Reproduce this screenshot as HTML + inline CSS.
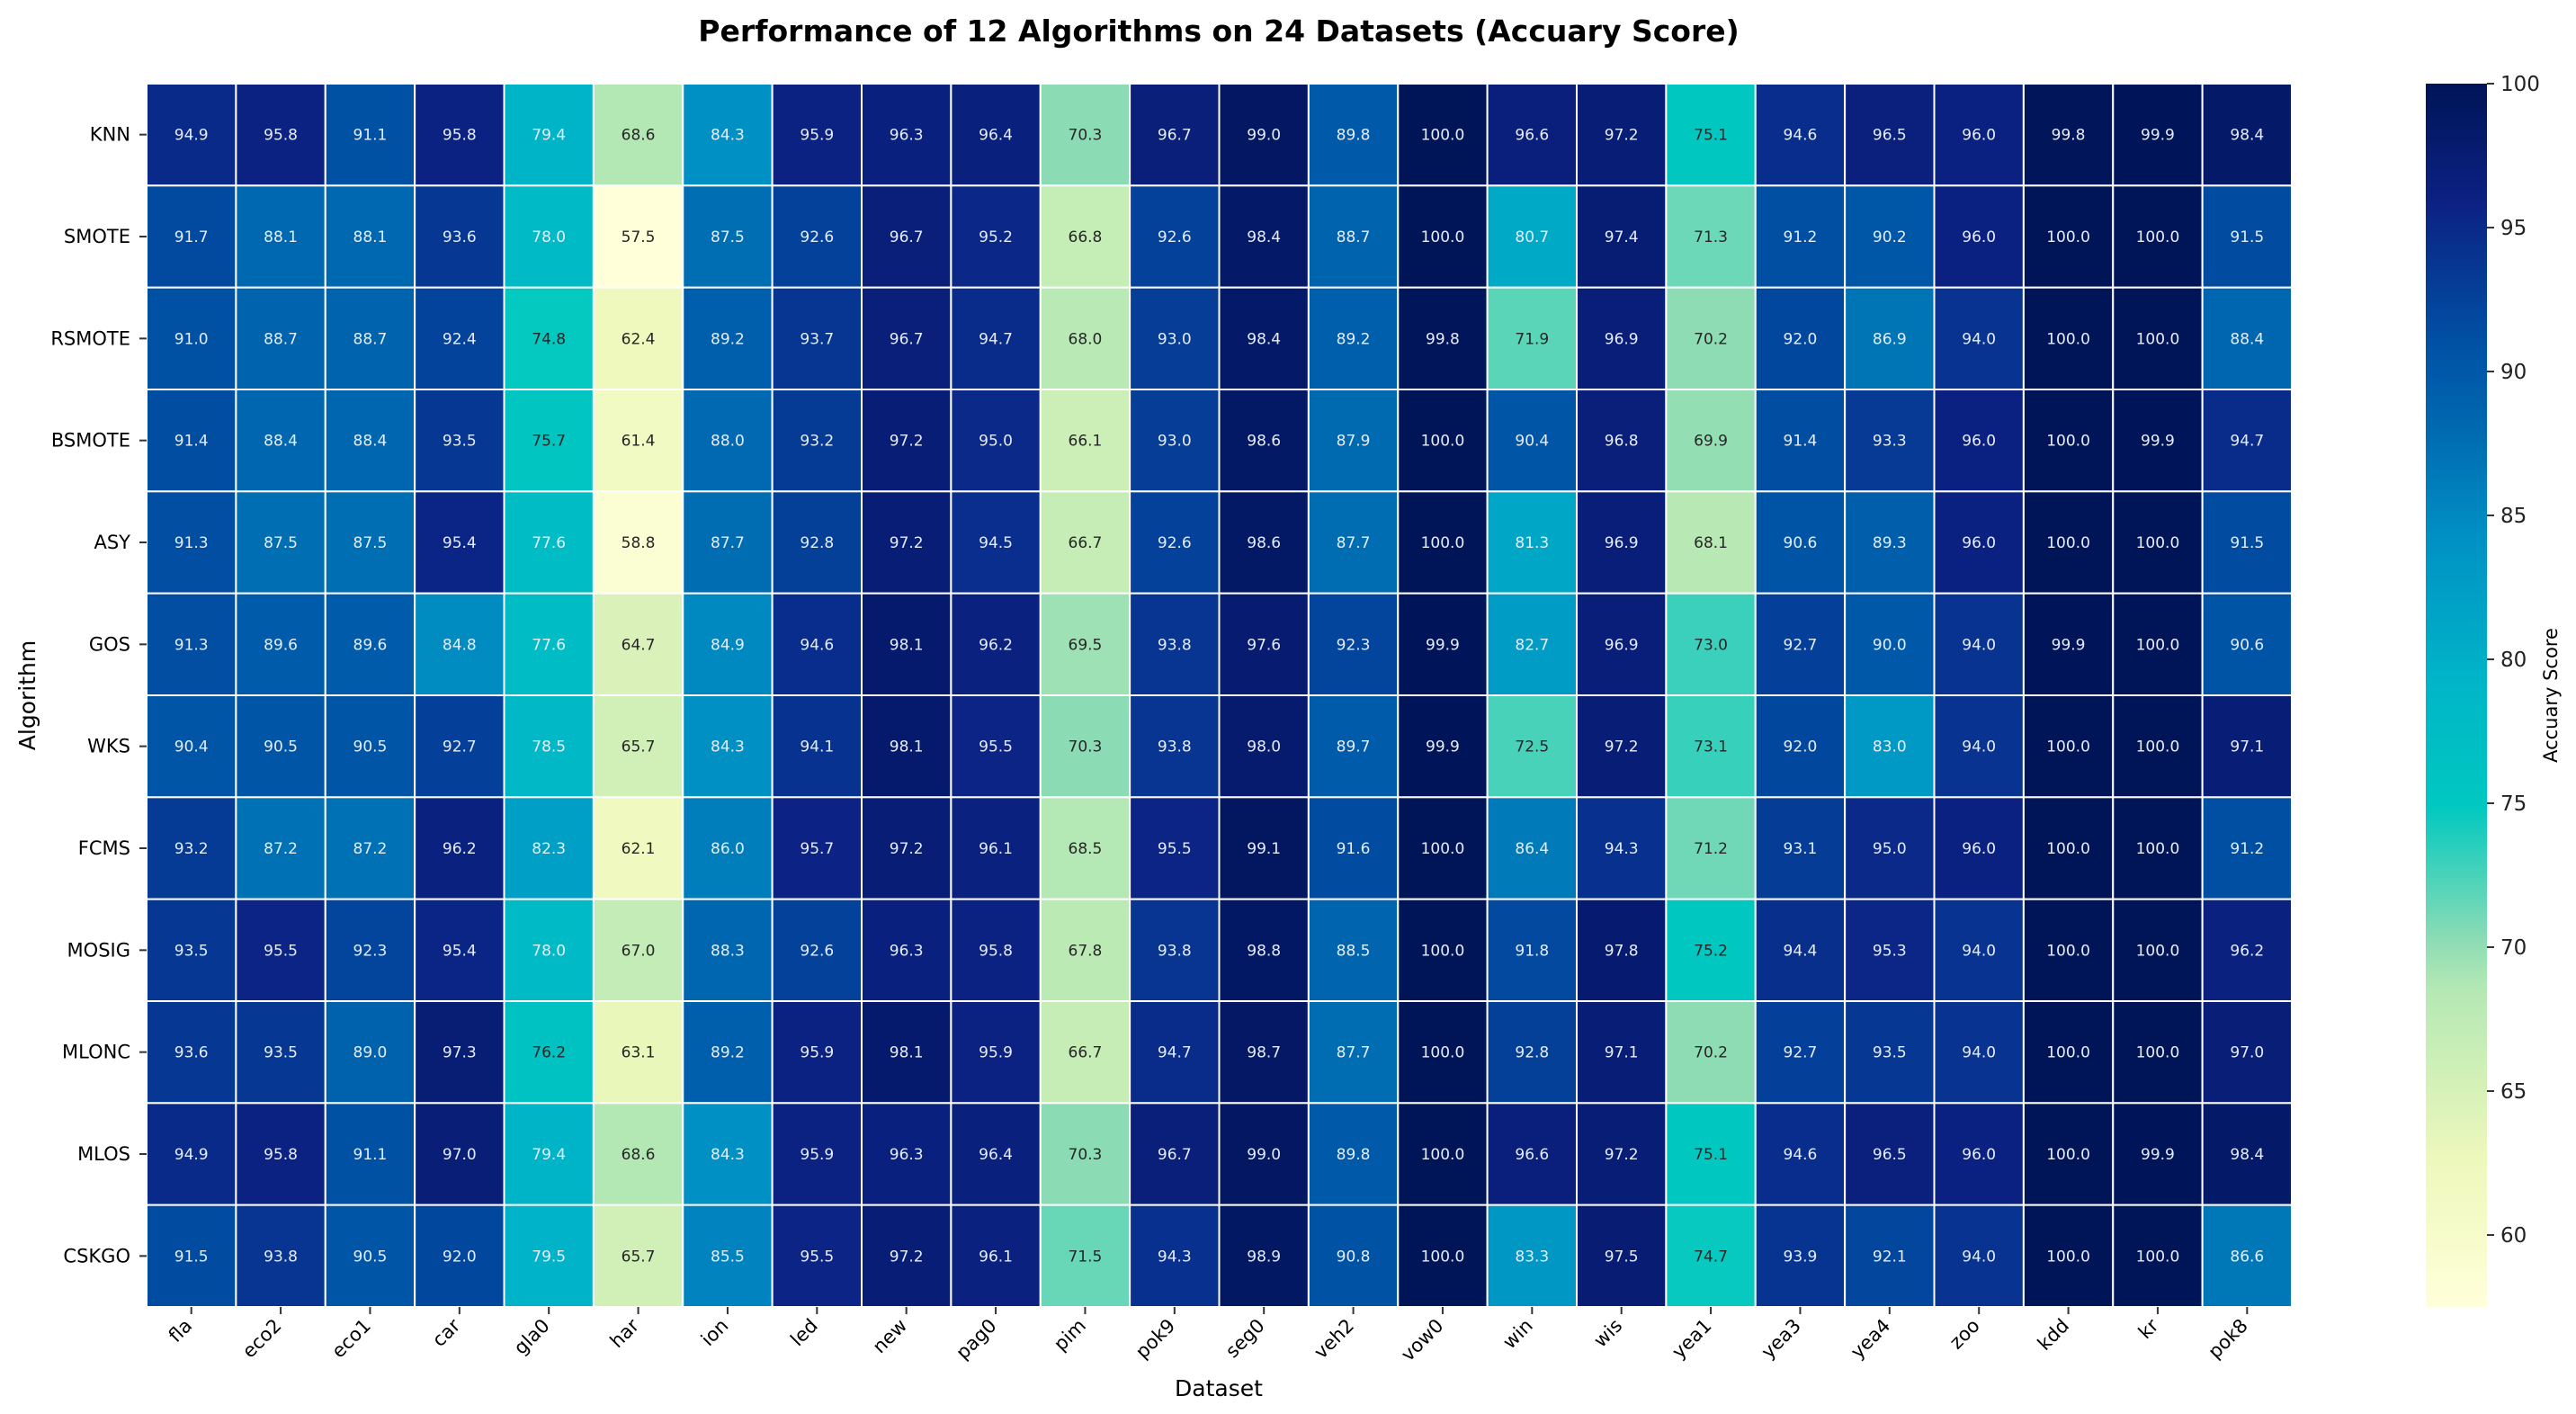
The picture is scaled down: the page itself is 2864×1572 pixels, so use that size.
<!DOCTYPE html>
<html><head><meta charset="utf-8">
<style>
html,body{margin:0;padding:0;background:#fff;}
svg{display:block;font-family:"DejaVu Sans","Liberation Sans",sans-serif;}
</style></head>
<body>
<svg id="chart" width="2864" height="1572" viewBox="0 0 2864 1572" xmlns="http://www.w3.org/2000/svg">
<defs>
<linearGradient id="cbgrad" x1="0" y1="1" x2="0" y2="0"></linearGradient>
</defs>
<text x="1355" y="46" text-anchor="middle" font-size="33" font-weight="bold" fill="#000">Performance of 12 Algorithms on 24 Datasets (Accuary Score)</text>
<g id="cells"></g>
<g id="xticks"></g>
<g id="yticks"></g>
<text x="1355" y="1552" text-anchor="middle" font-size="25" fill="#000">Dataset</text>
<text x="0" y="0" transform="translate(39,773) rotate(-90)" text-anchor="middle" font-size="25" fill="#000">Algorithm</text>
<rect x="2697" y="93" width="68" height="1360" fill="url(#cbgrad)"/>
<g id="cbticks"></g>
<text x="0" y="0" transform="translate(2843,773) rotate(-90)" text-anchor="middle" font-size="21" fill="#000">Accuary Score</text>
</svg>
<script>
const algorithms = ["KNN","SMOTE","RSMOTE","BSMOTE","ASY","GOS","WKS","FCMS","MOSIG","MLONC","MLOS","CSKGO"];
const datasets = ["fla","eco2","eco1","car","gla0","har","ion","led","new","pag0","pim","pok9","seg0","veh2","vow0","win","wis","yea1","yea3","yea4","zoo","kdd","kr","pok8"];
const scores = [
[94.9,95.8,91.1,95.8,79.4,68.6,84.3,95.9,96.3,96.4,70.3,96.7,99.0,89.8,100.0,96.6,97.2,75.1,94.6,96.5,96.0,99.8,99.9,98.4],
[91.7,88.1,88.1,93.6,78.0,57.5,87.5,92.6,96.7,95.2,66.8,92.6,98.4,88.7,100.0,80.7,97.4,71.3,91.2,90.2,96.0,100.0,100.0,91.5],
[91.0,88.7,88.7,92.4,74.8,62.4,89.2,93.7,96.7,94.7,68.0,93.0,98.4,89.2,99.8,71.9,96.9,70.2,92.0,86.9,94.0,100.0,100.0,88.4],
[91.4,88.4,88.4,93.5,75.7,61.4,88.0,93.2,97.2,95.0,66.1,93.0,98.6,87.9,100.0,90.4,96.8,69.9,91.4,93.3,96.0,100.0,99.9,94.7],
[91.3,87.5,87.5,95.4,77.6,58.8,87.7,92.8,97.2,94.5,66.7,92.6,98.6,87.7,100.0,81.3,96.9,68.1,90.6,89.3,96.0,100.0,100.0,91.5],
[91.3,89.6,89.6,84.8,77.6,64.7,84.9,94.6,98.1,96.2,69.5,93.8,97.6,92.3,99.9,82.7,96.9,73.0,92.7,90.0,94.0,99.9,100.0,90.6],
[90.4,90.5,90.5,92.7,78.5,65.7,84.3,94.1,98.1,95.5,70.3,93.8,98.0,89.7,99.9,72.5,97.2,73.1,92.0,83.0,94.0,100.0,100.0,97.1],
[93.2,87.2,87.2,96.2,82.3,62.1,86.0,95.7,97.2,96.1,68.5,95.5,99.1,91.6,100.0,86.4,94.3,71.2,93.1,95.0,96.0,100.0,100.0,91.2],
[93.5,95.5,92.3,95.4,78.0,67.0,88.3,92.6,96.3,95.8,67.8,93.8,98.8,88.5,100.0,91.8,97.8,75.2,94.4,95.3,94.0,100.0,100.0,96.2],
[93.6,93.5,89.0,97.3,76.2,63.1,89.2,95.9,98.1,95.9,66.7,94.7,98.7,87.7,100.0,92.8,97.1,70.2,92.7,93.5,94.0,100.0,100.0,97.0],
[94.9,95.8,91.1,97.0,79.4,68.6,84.3,95.9,96.3,96.4,70.3,96.7,99.0,89.8,100.0,96.6,97.2,75.1,94.6,96.5,96.0,100.0,99.9,98.4],
[91.5,93.8,90.5,92.0,79.5,65.7,85.5,95.5,97.2,96.1,71.5,94.3,98.9,90.8,100.0,83.3,97.5,74.7,93.9,92.1,94.0,100.0,100.0,86.6]
];
const cbTicks = [60,65,70,75,80,85,90,95,100];

const NS = "http://www.w3.org/2000/svg";
const X0 = 163, X1 = 2548, Y0 = 93, Y1 = 1453;
const colW = (X1 - X0) / datasets.length, rowH = (Y1 - Y0) / algorithms.length;
let vmin = Infinity, vmax = -Infinity;
scores.forEach(r => r.forEach(v => { vmin = Math.min(vmin, v); vmax = Math.max(vmax, v); }));
// colormap anchors (position 0..1, colour) — saturated YlGnBu as seen in the reference
const cmapPos = [0, 0.12, 0.26, 0.30, 0.41, 0.515, 0.63, 0.72, 0.79, 0.90, 1];
const cmapHex = ["#ffffd9","#eef8bc","#b4e8b4","#8cdcb4","#00c8c0","#00b4c8","#0090c4","#0068b0","#0050a4","#0c2284","#001458"];
const stops = cmapHex.map(h => [1,3,5].map(i => parseInt(h.substr(i,2),16)));
function cmap(v) {
  let t = Math.max(0, Math.min(1, (v - vmin) / (vmax - vmin)));
  let i = 0;
  while (i < cmapPos.length - 2 && t > cmapPos[i+1]) i++;
  const f = (t - cmapPos[i]) / (cmapPos[i+1] - cmapPos[i]);
  return stops[i].map((c, k) => c + (stops[i+1][k] - c) * f);
}
function lum(rgb) {
  const c = rgb.map(x => { x /= 255; return x <= 0.03928 ? x / 12.92 : Math.pow((x + 0.055) / 1.055, 2.4); });
  return 0.2126*c[0] + 0.7152*c[1] + 0.0722*c[2];
}
function xPos(j) { return X0 + (j + 0.5) * colW; }
function yPos(i) { return Y0 + (i + 0.5) * rowH; }
function yCb(v) { return Y1 - (v - vmin) / (vmax - vmin) * (Y1 - Y0); }
function mk(tag, attrs, parent) {
  const e = document.createElementNS(NS, tag);
  for (const k in attrs) e.setAttribute(k, attrs[k]);
  parent.appendChild(e); return e;
}
const grad = document.getElementById("cbgrad");
cmapPos.forEach((p, k) => mk("stop", {offset: p, "stop-color": cmapHex[k]}, grad));
const cells = document.getElementById("cells");
scores.forEach((row, i) => row.forEach((v, j) => {
  const rgb = cmap(v);
  const r = mk("rect", {x: X0 + j*colW, y: Y0 + i*rowH, width: colW, height: rowH, fill: `rgb(${rgb.map(Math.round).join(",")})`, stroke: "#fff", "stroke-width": 2}, cells);
  
  
  const t = mk("text", {x: xPos(j), y: yPos(i) + 6, "text-anchor": "middle", "font-size": 17, fill: lum(rgb) > 0.40 ? "#262626" : "#e6ecf8"}, cells);
  
  
  t.textContent = v.toFixed(1);
}));
const xt = document.getElementById("xticks");
datasets.forEach((d, j) => {
  const x = xPos(j);
  const l = mk("line", {x1: x, y1: Y1, x2: x, y2: Y1 + 8, stroke: "#333", "stroke-width": 2}, xt);
  
  
  const t = mk("text", {x: 0, y: 0, transform: `translate(${x + 2},${Y1 + 22}) rotate(-45)`, "text-anchor": "end", "font-size": 21, fill: "#000"}, xt);
  
  
  t.textContent = d;
});
const yt = document.getElementById("yticks");
algorithms.forEach((a, i) => {
  const y = yPos(i);
  const l = mk("line", {x1: X0 - 8, y1: y, x2: X0, y2: y, stroke: "#333", "stroke-width": 2}, yt);
  
  
  const t = mk("text", {x: X0 - 18, y: y + 7, "text-anchor": "end", "font-size": 21, fill: "#000"}, yt);
  
  
  t.textContent = a;
});
const cb = document.getElementById("cbticks");
cbTicks.forEach(v => {
  const y = yCb(v);
  const l = mk("line", {x1: 2765, y1: y, x2: 2773, y2: y, stroke: "#333", "stroke-width": 2}, cb);
  
  
  const t = mk("text", {x: 2780, y: y + 8, "font-size": 23, fill: "#222"}, cb);
  
  
  t.textContent = v;
});
</script>
</body></html>
